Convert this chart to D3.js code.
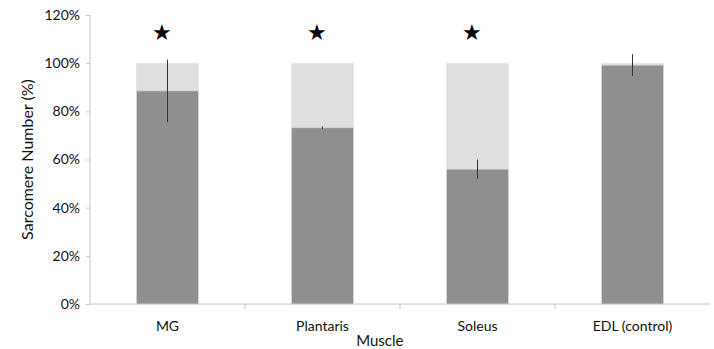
<!DOCTYPE html>
<style>
body { margin: 0; background: #fff; }
text { font-family: Lato, "Open Sans", sans-serif; }
</style>
<svg width="714" height="349"></svg>
<script src="https://d3js.org/d3.v7.min.js"></script>
<script>

var muscles = ["MG", "Plantaris", "Soleus", "EDL (control)"];
var sarcomere = [88.5, 73.2, 56, 99.2];
var errors = [13, 0.5, 4, 4.5];
var significant = [true, true, true, false];
var yTicks = [0, 20, 40, 60, 80, 100, 120];

var svg = d3.select("svg"),
    margin = {top: 15, right: 4, bottom: 45, left: 90},
    width = +svg.attr("width") - margin.left - margin.right,
    height = +svg.attr("height") - margin.top - margin.bottom,
    g = svg.append("g").attr("transform", "translate(" + margin.left + "," + margin.top + ")");

var x = d3.scaleBand()
    .domain(muscles)
    .range([0, width])
    .paddingInner(0.6)
    .paddingOuter(0.3);

var band = d3.scaleBand().domain(muscles).range([0, width]);

var y = d3.scaleLinear()
    .domain([0, 120])
    .range([height, 0]);

// axes
var yAxis = g.append("g")
    .call(d3.axisLeft(y).tickValues(yTicks).tickSize(4).tickPadding(6)
      .tickFormat(function(d) { return d + "%"; }));
yAxis.selectAll("line, path").attr("stroke", "#c4c4c4");
yAxis.selectAll("text").attr("font-size", 14).attr("fill", "#111");
yAxis.select(".domain").attr("d", "M0," + y(120) + "V" + height);

var xAxis = g.append("g")
    .attr("transform", "translate(0," + height + ")");
xAxis.append("line")
    .attr("x1", 0).attr("x2", width)
    .attr("stroke", "#c4c4c4");
xAxis.selectAll(".tk")
    .data(muscles.slice(1))
    .enter().append("line")
      .attr("x1", function(d) { return band(d); })
      .attr("x2", function(d) { return band(d); })
      .attr("y2", 5)
      .attr("stroke", "#c4c4c4");
xAxis.selectAll("text")
    .data(muscles)
    .enter().append("text")
      .attr("x", function(d) { return band(d) + band.bandwidth() / 2; })
      .attr("y", 27)
      .attr("text-anchor", "middle")
      .attr("font-size", 14)
      .attr("fill", "#111")
      .text(function(d) { return d; });

// light remainder bars to 100%
g.selectAll(".rest")
    .data(muscles)
    .enter().append("rect")
      .attr("x", function(d) { return x(d); })
      .attr("y", y(100))
      .attr("width", x.bandwidth())
      .attr("height", function(d, i) { return y(sarcomere[i]) - y(100); })
      .attr("fill", "#dfdfdf")
      .attr("stroke", "#e8e8e8");

// dark bars
g.selectAll(".val")
    .data(muscles)
    .enter().append("rect")
      .attr("x", function(d) { return x(d); })
      .attr("y", function(d, i) { return y(sarcomere[i]); })
      .attr("width", x.bandwidth())
      .attr("height", function(d, i) { return height - y(sarcomere[i]); })
      .attr("fill", "#8f8f8f")
      .attr("stroke", "#d6d6d6")
      .attr("stroke-width", 0.8);

// error bars
g.selectAll(".err")
    .data(muscles)
    .enter().append("line")
      .attr("x1", function(d) { return x(d) + x.bandwidth() / 2; })
      .attr("x2", function(d) { return x(d) + x.bandwidth() / 2; })
      .attr("y1", function(d, i) { return y(sarcomere[i] + errors[i]); })
      .attr("y2", function(d, i) { return y(sarcomere[i] - errors[i]); })
      .attr("stroke", "#333")
      .attr("stroke-width", 1);

// significance stars
g.selectAll(".star")
    .data(muscles.filter(function(d, i) { return significant[i]; }))
    .enter().append("text")
      .attr("x", function(d) { return x(d) + x.bandwidth() / 2 - 6; })
      .attr("y", 25)
      .attr("text-anchor", "middle")
      .attr("font-size", 22)
      .attr("font-family", "DejaVu Sans")
      .attr("fill", "#000")
      .text("\u2605");

// axis titles
svg.append("text")
    .attr("transform", "translate(33," + (margin.top + y(60)) + ") rotate(-90)")
    .attr("text-anchor", "middle")
    .attr("font-size", 16)
    .attr("fill", "#111")
    .text("Sarcomere Number (%)");

svg.append("text")
    .attr("x", margin.left + band("Plantaris") + band.bandwidth() * 0.87)
    .attr("y", 346)
    .attr("text-anchor", "middle")
    .attr("font-size", 15)
    .attr("fill", "#111")
    .text("Muscle");

</script>
